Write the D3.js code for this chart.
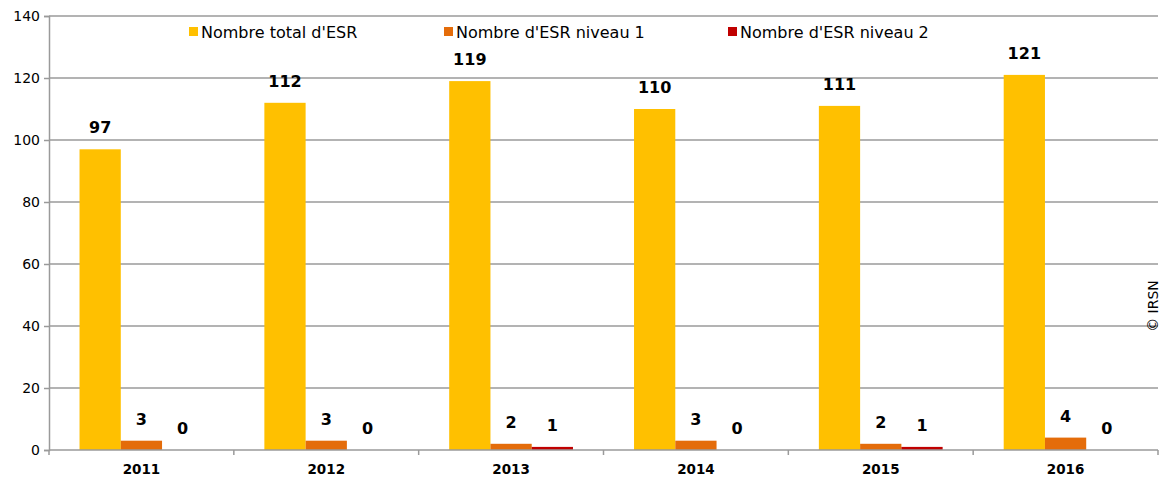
<!DOCTYPE html>
<html>
<head>
<meta charset="utf-8">
<script src="https://cdn.jsdelivr.net/npm/d3@7"></script>
<style>
  body { margin: 0; background: #fff; }
  svg { display: block; font-family: "DejaVu Sans", sans-serif; }
</style>
</head>
<body>
<script>
// chart data
const years = ["2011", "2012", "2013", "2014", "2015", "2016"];
const seriesNames = ["Nombre total d'ESR", "Nombre d'ESR niveau 1", "Nombre d'ESR niveau 2"];
const totalESR = [97, 112, 119, 110, 111, 121];
const niveau1 = [3, 3, 2, 3, 2, 4];
const niveau2 = [0, 0, 1, 0, 1, 0];
const yTicks = [0, 20, 40, 60, 80, 100, 120, 140];

const colors = ["#FFC000", "#E46C0A", "#C00000"];
const seriesValues = [totalESR, niveau1, niveau2];

const width = 1164, height = 477;
const margin = { top: 16, right: 6, bottom: 27, left: 49 };

const svg = d3.select("body").append("svg")
    .attr("width", width)
    .attr("height", height);

const x = d3.scaleBand()
    .domain(years)
    .range([margin.left, width - margin.right])
    .paddingInner(0)
    .paddingOuter(0);

const xInner = d3.scaleBand()
    .domain(d3.range(seriesNames.length))
    .range([0, x.bandwidth()])
    .paddingOuter(0.74)  // ~30px gap each side of the group
    .paddingInner(0);

const y = d3.scaleLinear()
    .domain([0, 140])
    .range([height - margin.bottom, margin.top]);

// gridlines
svg.append("g")
    .selectAll("line")
    .data(yTicks.filter(d => d > 0))
    .join("line")
    .attr("x1", margin.left)
    .attr("x2", width - margin.right)
    .attr("y1", d => y(d))
    .attr("y2", d => y(d))
    .attr("stroke", "#9a9a9a")
    .attr("stroke-width", 1.5);

// bars
const groups = svg.append("g")
    .selectAll("g")
    .data(years)
    .join("g")
    .attr("transform", d => `translate(${x(d)},0)`);

groups.each(function(year, i) {
    const g = d3.select(this);
    seriesValues.forEach((vals, s) => {
        const v = vals[i];
        g.append("rect")
            .attr("x", xInner(s))
            .attr("width", xInner.bandwidth())
            .attr("y", y(v))
            .attr("height", y(0) - y(v))
            .attr("fill", colors[s]);
        g.append("text")
            .attr("x", xInner(s) + xInner.bandwidth() / 2)
            .attr("y", y(v) - 16)
            .attr("text-anchor", "middle")
            .attr("font-weight", "bold")
            .attr("font-size", 16)
            .attr("fill", "#000")
            .text(v);
    });
});

// y axis
const yAxis = svg.append("g")
    .attr("transform", `translate(${margin.left},0)`)
    .call(d3.axisLeft(y).tickValues(yTicks).tickSize(5).tickPadding(4));
yAxis.select(".domain").attr("stroke", "#9a9a9a").attr("stroke-width", 1.5);
yAxis.selectAll(".tick line").attr("stroke", "#9a9a9a").attr("stroke-width", 1.5);
yAxis.selectAll(".tick text")
    .attr("font-family", "DejaVu Sans, sans-serif")
    .attr("font-size", 14)
    .attr("fill", "#000");

// x axis
const xAxisG = svg.append("g")
    .attr("transform", `translate(0,${y(0)})`);
xAxisG.append("line")
    .attr("x1", margin.left)
    .attr("x2", width - margin.right)
    .attr("stroke", "#9a9a9a")
    .attr("stroke-width", 1.5);
xAxisG.selectAll(".xtick")
    .data(years.concat(["end"]))
    .join("line")
    .attr("class", "xtick")
    .attr("x1", (d, i) => i < years.length ? x(d) : x(years[years.length - 1]) + x.bandwidth())
    .attr("x2", (d, i) => i < years.length ? x(d) : x(years[years.length - 1]) + x.bandwidth())
    .attr("y1", 0)
    .attr("y2", 5)
    .attr("stroke", "#9a9a9a")
    .attr("stroke-width", 1.5);
xAxisG.selectAll(".xlabel")
    .data(years)
    .join("text")
    .attr("class", "xlabel")
    .attr("x", d => x(d) + x.bandwidth() / 2)
    .attr("y", 24)
    .attr("text-anchor", "middle")
    .attr("font-weight", "bold")
    .attr("font-size", 13.5)
    .text(d => d);

// legend
const legendX = [189, 444, 728];
const legend = svg.append("g");
seriesNames.forEach((name, s) => {
    legend.append("rect")
        .attr("x", legendX[s])
        .attr("y", 27)
        .attr("width", 9)
        .attr("height", 9)
        .attr("fill", colors[s]);
    legend.append("text")
        .attr("x", legendX[s] + 12)
        .attr("y", 37.5)
        .attr("font-size", 16)
        .text(name);
});

// copyright
svg.append("text")
    .attr("transform", `translate(1158,306) rotate(-90)`)
    .attr("text-anchor", "middle")
    .attr("font-size", 14)
    .text("© IRSN");
</script>
</body>
</html>
